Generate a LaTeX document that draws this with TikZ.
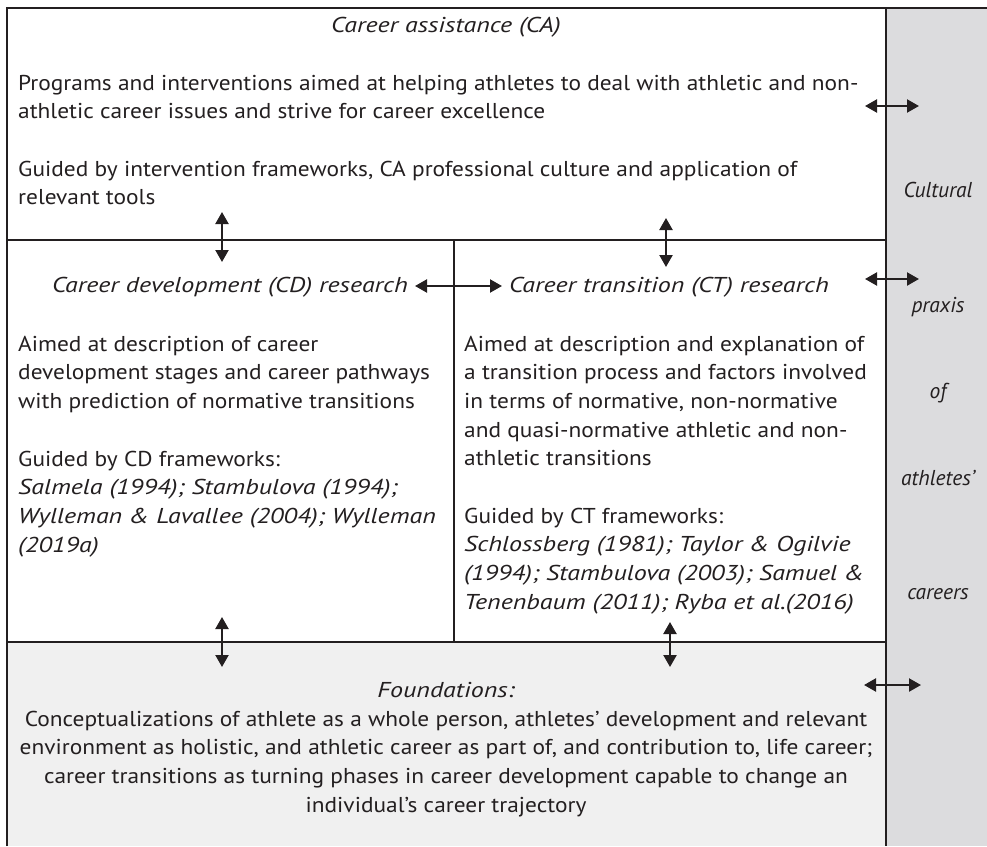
\documentclass[tikz,border=0pt]{standalone}
\usepackage{fontspec}
\setmainfont{PT Sans}[FakeStretch=1.087]
\newfontfamily\itfam{PT Sans}[FakeStretch=1.21]
\newfontfamily\colfam{PT Sans}[FakeStretch=1.0]
\usetikzlibrary{arrows.meta}
\definecolor{ink}{HTML}{231F20}
\definecolor{colgray}{HTML}{DCDCDE}
\definecolor{fndgray}{HTML}{F0F0F0}
\newcommand\bodyfont{\fontsize{21.5}{28.7}\selectfont}
\newcommand\itx[1]{{\itfam\itshape #1}}
\tikzset{
  frameline/.style={draw=ink, line width=2.2pt},
  bodytext/.style={anchor=base west, inner sep=0pt, align=left, font=\bodyfont, text=ink},
  centtext/.style={anchor=base, inner sep=0pt, align=center, font=\bodyfont, text=ink},
  ttltext/.style={anchor=base, inner sep=0pt, font=\bodyfont\itfam\itshape, text=ink},
  coltext/.style={anchor=base, inner sep=0pt, font=\bodyfont\colfam\itshape, text=ink},
  link/.style={draw=ink, line width=2.2pt, {Triangle[width=13pt,length=12pt]}-{Triangle[width=13pt,length=12pt]}},
}
\begin{document}
\begin{tikzpicture}[x=1pt,y=-1pt]
\useasboundingbox (0,0) rectangle (987,846);
% fills
\fill[colgray] (886,8) rectangle (987,846);
\fill[fndgray] (7,642) rectangle (886,846);
% frame lines
\draw[frameline] (7,846) -- (7,8) -- (987,8);
\draw[frameline] (886,8) -- (886,846);
\draw[frameline] (7,240) -- (886,240);
\draw[frameline] (7,642) -- (886,642);
\draw[frameline] (454,240) -- (454,642);

% Career assistance (base anchor = last line)
\node[ttltext] (catitle) at (446,32) {Career assistance (CA)};
\node[bodytext] (cap1) at (18,118.7) {Programs and interventions aimed at helping athletes to deal with athletic and non-\\athletic career issues and strive for career excellence};
\node[bodytext] (cap2) at (18,204.8) {Guided by intervention frameworks, CA professional culture and application of\\relevant tools};

% Career development
\node[ttltext] (cdtitle) at (230,292) {Career development (CD) research};
\node[bodytext] (cdp1) at (18,408.4) {Aimed at description of career\\development stages and career pathways\\with prediction of normative transitions};
\node[bodytext] (cdp2) at (18,552.1) {Guided by CD frameworks:\\\itx{Salmela (1994); Stambulova (1994);}\\\itx{Wylleman \& Lavallee (2004); Wylleman}\\\itx{(2019a)}};

% Career transition
\node[ttltext] (cttitle) at (669,292) {Career transition (CT) research};
\node[bodytext] (ctp1) at (464,465.8) {Aimed at description and explanation of\\a transition process and factors involved\\in terms of normative, non-normative\\and quasi-normative athletic and non-\\athletic transitions};
\node[bodytext] (ctp2) at (464,609.1) {Guided by CT frameworks:\\\itx{Schlossberg (1981); Taylor \& Ogilvie}\\\itx{(1994); Stambulova (2003); Samuel \&}\\\itx{Tenenbaum (2011); Ryba et al.(2016)}};

% Foundations
\node[ttltext] (fntitle) at (446,697) {Foundations:};
\node[centtext] (fnbody) at (446,812.1) {Conceptualizations of athlete as a whole person, athletes’ development and relevant\\environment as holistic, and athletic career as part of, and contribution to, life career;\\career transitions as turning phases in career development capable to change an\\individual’s career trajectory};

% Cultural praxis column
\node[coltext] (cw1) at (938,197) {Cultural};
\node[coltext] (cw2) at (938,312) {praxis};
\node[coltext] (cw3) at (938,398) {of};
\node[coltext] (cw4) at (938,485) {athletes’};
\node[coltext] (cw5) at (938,599) {careers};

% arrow end points
\coordinate (a1t) at (222,212); \coordinate (a1b) at (222,262);
\coordinate (a2t) at (666,218); \coordinate (a2b) at (666,267);
\coordinate (a3t) at (222,617); \coordinate (a3b) at (222,667);
\coordinate (a4t) at (670,622); \coordinate (a4b) at (670,667);
\coordinate (a5l) at (415,286); \coordinate (a5r) at (502,286);
\coordinate (a6l) at (865,106); \coordinate (a6r) at (919,106);
\coordinate (a7l) at (865,279); \coordinate (a7r) at (919,279);
\coordinate (a8l) at (864,685); \coordinate (a8r) at (921,685);
\draw[link] (a1t) -- (a1b);
\draw[link] (a2t) -- (a2b);
\draw[link] (a3t) -- (a3b);
\draw[link] (a4t) -- (a4b);
\draw[link] (a5l) -- (a5r);
\draw[link] (a6l) -- (a6r);
\draw[link] (a7l) -- (a7r);
\draw[link] (a8l) -- (a8r);
\end{tikzpicture}
\end{document}
